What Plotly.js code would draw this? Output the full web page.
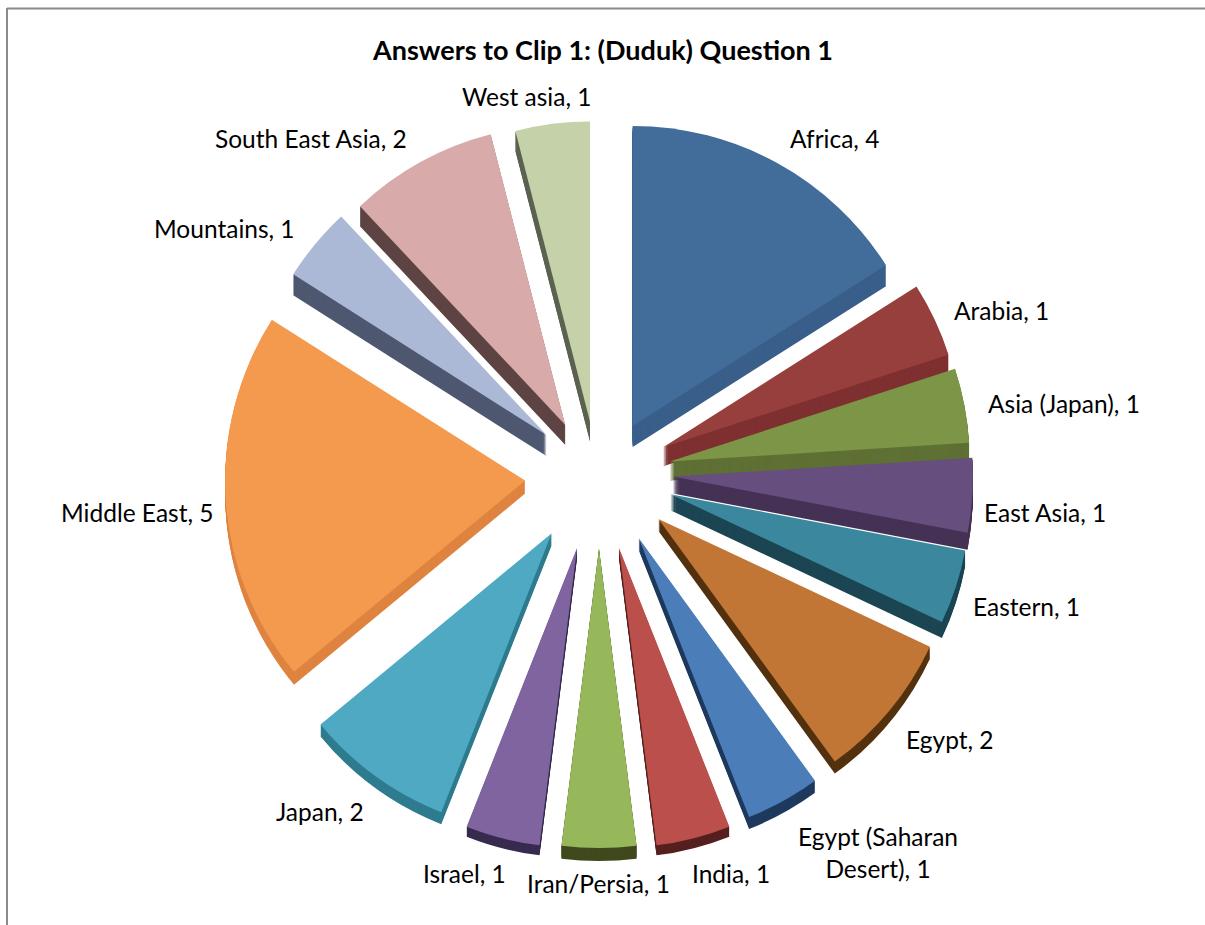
<!DOCTYPE html>
<html><head><meta charset="utf-8">
<script src="https://cdn.plot.ly/plotly-3.0.1.min.js"></script>
<style>html,body{margin:0;padding:0;background:#fff;overflow:hidden}</style>
</head><body><div id="chart" style="width:1205px;height:925px"></div>
<script>
const categories = ["Africa","Arabia","Asia (Japan)","East Asia","Eastern","Egypt","Egypt (Saharan<br>Desert)","India","Iran/Persia","Israel","Japan","Middle East","Mountains","South East Asia","West asia"];
const answers = [4,1,1,1,1,2,1,1,1,1,2,5,1,2,1];
const topColors = ["#426C9A","#963F3D","#7C9546","#664F7F","#3B889E","#C27636","#4B7DB8","#BA4F4C","#97B75B","#7F649F","#4FA9C3","#F39A4F","#ABB9D7","#D8ABAA","#C4D1A9"];
const sideColors = ["#3A5F8A","#7F3030","#5F7034","#453255","#1C4653","#54320F","#1F3A5E","#55201F","#40491D","#372B4F","#2F7C8F","#DE8440","#4F5870","#5E4544","#5C6350"];
const shiftX = [0,0,1,3,4,5,6,3,1,-3,-4,-1,4,2,1];
const shiftY = [-1,-12,-15,-18,-18,-17,-15,-12,-14,-12,-15,-14,-9,-2,3];
const depths = [21,19,19,17,16,12,12,10,13,10,12,13,21,20,20];
const labelX = [834,1001,1064,1045,1026,950,878,731,598,464,320,137,224,311,526];
const labelY = [138,310,403,512,606,739,852,873,883,873,811,512,228,138,96];

const W=1205,H=925,cx=598,cy=490,half=372,step=1,font="Lato, Carlito, sans-serif";
const clear=categories.map(()=>"rgba(0,0,0,0)");
function dom(dx,dy){return {x:[(cx+dx-half)/W,(cx+dx+half)/W],y:[1-(cy+dy+half)/H,1-(cy+dy-half)/H]};}
function slice(i,palette,dy,hover){
  const colors=clear.slice(); colors[i]=palette[i];
  return {type:"pie",labels:categories,values:answers,sort:false,direction:"clockwise",rotation:0,pull:0.24,
    textinfo:"none",hoverinfo:hover?"label+value":"skip",domain:dom(shiftX[i],shiftY[i]+dy),marker:{colors:colors,line:{width:0}}};
}
const traces=[];
categories.forEach((c,i)=>{ for(let d=depths[i];d>0;d-=step) traces.push(slice(i,sideColors,d,false)); });
categories.forEach((c,i)=>{ traces.push(slice(i,topColors,0,true)); });
const annotations=categories.map((c,i)=>({xref:"paper",yref:"paper",x:labelX[i]/W,y:1-labelY[i]/H,xanchor:"center",yanchor:"middle",
  showarrow:false,align:"center",text:c+", "+answers[i],font:{family:font,size:24.5,color:"#000"}}));
Plotly.newPlot("chart",traces,{
  width:W,height:H,margin:{l:0,r:0,t:0,b:0},showlegend:false,paper_bgcolor:"#fff",annotations:annotations,
  title:{text:"<b>Answers to Clip 1: (Duduk) Question 1</b>",x:603/W,xanchor:"center",y:1-51/H,yanchor:"middle",font:{family:font,size:27,color:"#000"}},
  shapes:[{type:"line",xref:"paper",yref:"paper",x0:7/W,x1:1,y0:1-8.5/H,y1:1-8.5/H,line:{color:"#8A8A8A",width:2}},
          {type:"line",xref:"paper",yref:"paper",x0:7/W,x1:7/W,y0:0,y1:1-8/H,line:{color:"#8A8A8A",width:2}}]
},{displayModeBar:false});
</script></body></html>
